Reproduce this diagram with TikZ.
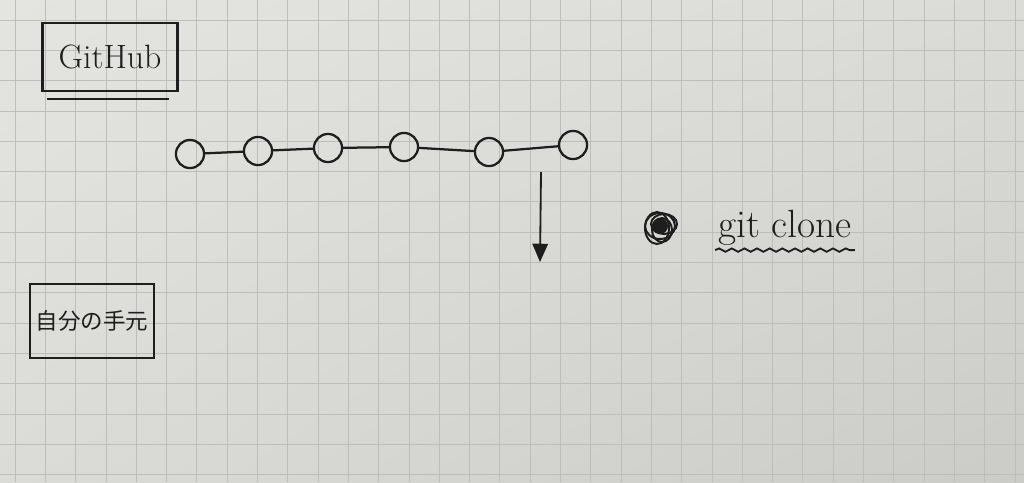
\documentclass[tikz,border=0pt]{standalone}
\usepackage{fontspec}
\newfontfamily\jpfont{Noto Sans CJK JP}
\usetikzlibrary{arrows.meta,decorations.pathmorphing,shadings}
\definecolor{paperA}{HTML}{E4E4E1}
\definecolor{paperB}{HTML}{DBDBD8}
\definecolor{paperC}{HTML}{CBCBC8}
\definecolor{gridc}{HTML}{BDBDBA}
\definecolor{ink}{HTML}{1E1E1E}
\begin{document}
\begin{tikzpicture}[x=0.025cm,y=-0.025cm]
		\tikzstyle{every node}=[draw=ink,line width=1.6pt,text=ink];
		\tikzstyle{commit}=[shape=circle,minimum size=20pt,inner sep=0pt];
		\tikzstyle{place}=[shape=rectangle,inner sep=2pt];
		\useasboundingbox (0,0) rectangle (1024,482);
		% squared paper
		\shade[upper left=paperA,upper right=paperB,lower left=paperB,lower right=paperC] (0,0) rectangle (1024,482);
		\foreach \k in {0,...,33} \draw[gridc,line width=0.5pt] (15+30.3*\k,0) -- (15+30.3*\k,482);
		\foreach \k in {0,...,15} \draw[gridc,line width=0.5pt] (0,20+30.3*\k) -- (1024,20+30.3*\k);
		% boxes
		\node[place,minimum width=96pt,minimum height=48pt,font=\fontsize{24}{28}\selectfont] (github) at (110,57) {GitHub};
		\draw[ink,line width=1.6pt] ([xshift=4pt,yshift=-5pt]github.south west) -- ([xshift=-7pt,yshift=-5pt]github.south east);
		\node[place,minimum width=88pt,minimum height=53pt,font=\jpfont\fontsize{16}{16}\selectfont] (local) at (92,321) {自分の手元};
		% commits
		\node[commit] (1) at (190,154) {};
		\node[commit] (2) at (258,151) {};
		\node[commit] (3) at (328,148) {};
		\node[commit] (4) at (404,147) {};
		\node[commit] (5) at (489,152) {};
		\node[commit] (6) at (573,145) {};
		\draw[ink,line width=1.6pt](1)--(2)
		(2) -- (3)
		(3) -- (4)
		(4) -- (5)
		(5) -- (6);
		% clone
		\coordinate (a) at (541,172);
		\coordinate (b) at (540,262);
		\draw[ink,line width=1.3pt,-{Triangle[width=11pt,length=13pt]}] (a) -- (b);
		\fill[ink] (660,226) circle (8);
		\foreach \dx/\dy/\rx/\ry in {0/0/15/13,-3/2/12/16,4/-2/13/10,2/4/10/12}
			\draw[ink,line width=1.4pt] (660+\dx,226+\dy) ellipse ({\rx} and {\ry});
		\node[draw=none,font=\fontsize{28}{32}\selectfont] (clone) at (785,228) {git clone};
		\draw[ink,line width=1.3pt,decorate,decoration={snake,segment length=9pt,amplitude=1.2pt}] ([xshift=2pt,yshift=1pt]clone.south west) -- ([xshift=-2pt,yshift=1pt]clone.south east);
\end{tikzpicture}
\end{document}
